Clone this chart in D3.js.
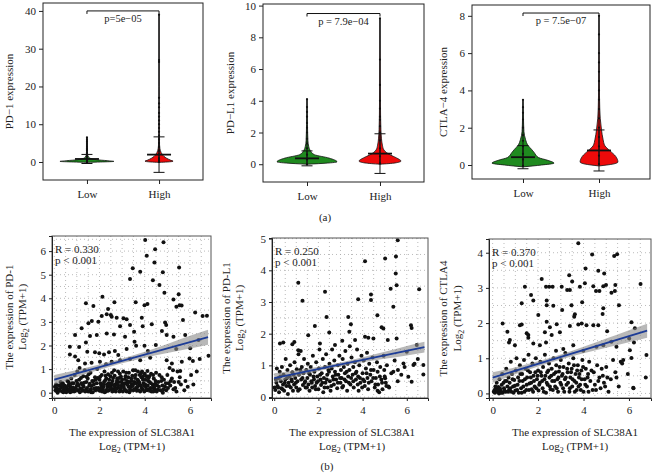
<!DOCTYPE html>
<html><head><meta charset="utf-8">
<script src="https://cdn.jsdelivr.net/npm/d3@7"></script>
<style>body{margin:0;background:#fff}svg{display:block}text{font-family:"Liberation Serif","DejaVu Serif",serif;fill:#222}</style>
</head><body><svg id="c" width="652" height="476"></svg>
<script>
// ---------- DATA ----------
const groups = ["Low", "High"];
const violinTitles = ["PD\u22121 expression", "PD\u2212L1 expression", "CTLA\u22124 expression"];
const violinPLabels = ["p=5e\u221205", "p = 7.9e\u221204", "p = 7.5e\u221207"];
const violinYTicks = [[0, 10, 20, 30, 40], [0, 2, 4, 6, 8, 10], [0, 2, 4, 6, 8]];
const violinBracket = [40, 9.5, 8.15];
const violinMeans = [[0.8, 1.95], [0.37, 0.67], [0.42, 0.78]];
const violinSDs = [[1.2, 4.7], [0.47, 1.25], [0.62, 1.1]];
// density profiles [value, relative density]
const pd1LowDensity = [[-0.1,0],[0,0.5],[0.15,1],[0.35,0.75],[0.6,0.35],[0.9,0.15],[1.3,0.06],[2,0.025],[3,0.012],[4.5,0.006],[6.5,0]];
const pd1HighDensity = [[-0.1,0],[0,0.3],[0.2,0.52],[0.5,0.42],[1,0.28],[1.5,0.18],[2,0.12],[3,0.05],[4,0.025],[6,0.01],[10,0.004],[20,0.002],[39,0]];
const pdl1LowDensity = [[0,0],[0.05,0.5],[0.15,1],[0.39,0.73],[0.6,0.25],[0.85,0.11],[1.1,0.06],[1.5,0.03],[2.5,0.015],[4.1,0]];
const pdl1HighDensity = [[0,0],[0.08,0.5],[0.2,0.7],[0.4,0.55],[0.6,0.33],[0.9,0.13],[1.2,0.08],[1.6,0.05],[2.2,0.03],[3,0.02],[5,0.01],[9.2,0]];
const ctla4LowDensity = [[-0.1,0],[0,0.6],[0.1,1],[0.25,0.8],[0.4,0.5],[0.67,0.36],[0.85,0.27],[1.03,0.17],[1.38,0.08],[1.8,0.03],[2.5,0.015],[3.5,0]];
const ctla4HighDensity = [[-0.05,0],[0.05,0.45],[0.16,0.61],[0.46,0.54],[0.77,0.35],[1.03,0.19],[1.38,0.13],[1.9,0.08],[2.5,0.04],[3,0.025],[4.5,0.01],[8,0]];
// sample values drawn on the centre line
const pd1LowValues = [-0.1,0.2,0.5,1,1.5,2,2.5,3,3.3,3.6,4,4.5,5,5.5,6,6.5];
const pd1HighValues = [0,0.5,1,2,3,4,5,6,7,8,9,10,11,12,13,14.5,15.5,17,26.5,27,39];
const pdl1LowValues = [0,0.3,0.6,1,1.3,1.6,2,2.3,2.6,3,3.3,3.6,4.1];
const pdl1HighValues = [0.05,0.5,1,1.5,2,2.4,2.8,3,3.5,4,5,6.6,9.2];
const ctla4LowValues = [-0.05,0.3,0.6,1,1.3,1.6,2,2.45,2.8,3.1,3.5];
const ctla4HighValues = [0.05,0.5,1,1.5,2,2.5,3,3.5,4,4.5,5,5.5,6,7,8];

const scatterGenes = ["PD-1", "PD-L1", "CTLA4"];
const scatterR = ["R = 0.330", "R = 0.250", "R = 0.370"];
const scatterP = ["p < 0.001", "p < 0.001", "p < 0.001"];
const scatterXTicks = [0, 2, 4, 6];
const scatterYTicks = [[0,1,2,3,4,5,6],[0,1,2,3,4,5],[0,1,2,3,4]];
const scatterFit = [[0.55, 0.265], [0.6, 0.144], [0.45, 0.196]]; // intercept, slope
const scatterCI = [
  [[0,0.2],[1,0.15],[2,0.11],[3,0.1],[4,0.13],[5,0.19],[6,0.27],[6.8,0.32]],
  [[0,0.15],[1,0.1],[2,0.07],[3,0.06],[4,0.08],[5,0.11],[6,0.15],[6.8,0.17]],
  [[0,0.15],[1,0.1],[2,0.075],[3,0.07],[4,0.09],[5,0.13],[6,0.17],[6.8,0.2]]
];
const pd1Points = [
[4.02,6.47],[4.83,6.37],[4.09,5.8],[4.46,6.08],[4.43,5.52],[3.47,5.27],[3.8,5.13],[3.35,4.82],[4.36,4.77],[5.52,5.3],[4.8,5.1],[4.65,4.56],[4.87,4.24],
[2.13,4.07],[1.4,3.79],[2.66,3.83],[1.73,3.67],[3.6,3.83],[3.99,3.71],[4.12,3.76],[5.27,3.95],[5.5,4.17],[5.54,3.71],[5.63,3.69],[5.4,3.64],[6.23,3.4],[6.56,3.25],[6.75,3.26],
[2.38,3.55],[2.32,3.32],[2.5,3.29],[2.1,3.25],[2.54,3.22],[2.76,3.18],[1.51,2.94],[1.66,3.04],[1.95,3.01],[3.06,3.15],[3.2,3.11],[3.87,3.18],[3.91,2.82],[4.31,2.9],[4.9,2.97],[4.95,2.87],[5.69,3.08],
[2.91,2.82],[3.35,2.87],[1.21,2.73],[1.88,2.44],[2.32,2.51],[2.64,2.47],[3.53,2.58],[3.13,2.37],[0.92,2.44],[1.58,2.4],[4.76,2.61],[4.97,2.44],[5.27,2.37],[5.79,2.44],[6.38,2.23],
[1.4,2.13],[0.69,1.95],[1.1,1.94],[1.46,1.74],[1.8,1.71],[1.99,1.67],[2.2,1.62],[2.42,1.71],[2.68,1.77],[2.83,1.6],[3.2,1.85],[3.55,2.16],[3.62,1.99],[3.99,1.99],[4.14,1.77],[4.49,2.02],[5.39,1.85],[6.01,1.88],[6.82,1.57],
[0.69,1.62],[0.92,1.53],[1.06,1.38],[1.36,1.24],[1.65,1.27],[2.02,1.31],[2.29,1.2],[2.54,1.31],[2.91,1.38],[3.35,1.43],[3.8,1.38],[4.24,1.48],[4.97,1.38],[5.2,1.24],[5.64,1.31],[5.98,1.45],[6.13,1.34],[6.43,1.43],[5.57,0.92],
[0.05,0.1],[0.1,0.2],[0.12,0.05],[0.18,0.15],[0.2,0.3],[0.25,0.1],[0.3,0.22],[0.35,0.05],[0.38,0.4],[0.42,0.15],[0.45,0.3],[0.5,0.08],[0.55,0.2],[0.58,0.5],[0.62,0.1],[0.65,0.35],[0.7,0.02],[0.72,0.25],[0.75,0.6],[0.8,0.12],[0.85,0.4],[0.88,0.05],[0.9,0.75],[0.95,0.2],[1.0,0.3],[1.02,0.9],[1.05,0.1],[1.1,0.55],[1.12,1.05],[1.15,0.18],[1.2,0.4],[1.25,0.08],[1.28,0.7],[1.3,0.25],[1.35,0.95],[1.4,0.12],[1.42,0.45],[1.48,0.6],[1.5,0.05],[1.55,0.3],[1.6,0.85],[1.62,0.15],[1.68,0.5],[1.7,0.02],[1.75,0.35],[1.8,0.65],[1.82,0.1],[1.88,0.4],[1.9,1.0],[1.95,0.2],[2.0,0.55],[2.02,0.08],[2.08,0.3],[2.1,0.75],[2.15,0.15],[2.2,0.45],[2.22,0.9],[2.28,0.05],[2.3,0.6],[2.35,0.25],[2.4,0.4],[2.42,0.1],[2.48,0.7],[2.5,0.3],[2.55,0.85],[2.58,0.5],[2.62,0.15],[2.65,0.95],[2.7,0.35],[2.72,0.05],[2.78,0.6],[2.8,0.2],[2.85,0.45],[2.9,0.8],[2.92,0.1],[2.98,0.3],[3.0,0.55],[3.05,0.9],[3.08,0.2],[3.12,0.4],[3.15,0.7],[3.2,0.05],[3.22,0.5],[3.28,0.25],[3.3,0.85],[3.35,0.15],[3.4,0.6],[3.42,0.35],[3.48,0.95],[3.5,0.1],[3.55,0.45],[3.6,0.75],[3.62,0.2],[3.68,0.55],[3.7,0.9],[3.75,0.3],[3.8,0.05],[3.85,0.65],[3.9,0.15],[3.95,0.4],[4.0,0.8],[4.05,0.25],[4.1,0.1],[4.15,0.5],[4.2,0.7],[4.25,0.2],[4.3,0.05],[4.35,0.35],[4.4,0.6],[4.45,0.15],[4.5,0.85],[4.55,0.3],[4.6,0.45],[4.7,0.1],[4.75,0.65],[4.8,0.0],[4.85,0.55],[4.9,0.25],[5.0,0.75],[5.05,0.4],[5.1,1.05],[5.2,0.6],[5.3,0.45],[5.35,0.2],[5.45,0.9],[5.55,0.65],[5.6,0.35],[5.8,0.5],[5.9,0.25],[6.05,0.75],[6.15,0.35],[6.3,0.9],
[0.08,0.35],[0.15,0.0],[0.28,0.45],[0.4,0.02],[0.48,0.12],[0.6,0.28],[0.68,0.15],[0.78,0.4],[0.92,0.08],[0.98,0.5],[1.08,0.3],[1.18,0.62],[1.22,0.15],[1.32,0.42],[1.45,0.2],[1.52,0.78],[1.58,0.1],[1.65,0.28],[1.72,0.48],[1.85,0.2],[1.92,0.62],[2.05,0.4],[2.12,0.05],[2.18,0.25],[2.25,0.52],[2.32,0.12],[2.38,0.78],[2.45,0.3],[2.52,0.18],[2.6,0.62],[2.68,0.25],[2.75,0.4],[2.82,0.9],[2.88,0.05],[2.95,0.68],[3.02,0.38],[3.1,0.12],[3.18,0.85],[3.25,0.45],[3.32,0.02],[3.38,0.25],[3.45,0.72],[3.52,0.38],[3.58,0.95],[3.65,0.08],[3.72,0.5],[3.78,0.75],[3.82,0.3],[3.88,0.9],[3.92,0.55],[3.98,0.05],[4.02,0.35],[4.08,0.7],[4.12,0.92],[4.18,0.15],[4.22,0.45],[4.28,0.8],[4.38,0.05],[4.42,0.25],[4.48,0.5],[4.58,0.12],[4.65,0.75],[4.78,0.3],[4.95,0.1],[5.15,0.5],[5.25,0.95],[5.4,0.05],
[0.03,0.25],[0.22,0.08],[0.33,0.32],[0.47,0.22],[0.53,0.02],[0.63,0.45],[0.77,0.05],[0.83,0.22],[0.97,0.12],[1.03,0.38],[1.13,0.02],[1.27,0.32],[1.37,0.05],[1.43,0.68],[1.57,0.38],[1.63,0.02],[1.77,0.18],[1.83,0.55],[1.97,0.1],[2.03,0.68],[2.07,0.18],[2.17,0.35],[2.23,0.02],[2.27,0.72],[2.33,0.35],[2.37,0.08],[2.43,0.55],[2.47,0.2],[2.53,0.4],[2.57,0.05],[2.63,0.32],[2.67,0.72],[2.73,0.15],[2.77,0.5],[2.83,0.3],[2.87,0.62],[2.93,0.2],[2.97,0.45],[3.03,0.05],[3.07,0.28],[3.13,0.58],[3.17,0.1],[3.23,0.35],[3.27,0.65],[3.33,0.45],[3.37,0.1],[3.43,0.5],[3.47,0.28],[3.53,0.15],[3.57,0.62],[3.63,0.4],[3.67,0.25],[3.73,0.1],[3.77,0.42],[3.83,0.82],[3.87,0.2],[3.93,0.7],[3.97,0.3],[4.03,0.55],[4.07,0.15],[4.13,0.3],[4.17,0.62],[4.23,0.08],[4.27,0.4],[4.33,0.2],[4.37,0.75],[4.47,0.38],[4.53,0.05],[4.63,0.25],[4.73,0.5],[4.83,0.15],[4.93,0.4],[5.03,0.2],[5.13,0.3],[5.27,0.15],[5.5,0.45],[5.75,0.1]
];
const pdl1Points = [
[5.59,4.95],[5.51,4.44],[5.02,4.37],[4.11,4.29],[5.5,3.9],[5.54,3.53],[1.09,3.61],[1.28,3.04],[2.3,3.32],[4.38,3.24],[4.38,3.06],[6.56,3.4],[5.27,3.42],[3.8,3.09],[4.67,2.58],[5.39,2.85],[2.37,2.53],[3.35,2.53],[3.47,2.3],[6.19,2.27],[6.22,2.18],[4.86,2.2],[4.94,2.16],[1.84,2.24],[2.49,2.04],[3.4,2.06],[1.54,1.95],[4.11,1.9],[4.26,1.87],[4.49,1.85],[3.66,1.8],[3.08,1.78],[5.14,1.8],[5.54,1.85],[0.41,1.72],[0.26,1.69],[0.82,1.67],[0.91,1.74],[1.09,1.48],[2.07,1.69],[2.75,1.64],[6.45,1.64],[6.0,1.43],[6.75,1.01],[6.75,0.71],[6.07,0.64],[6.22,0.48],[5.85,1.06],[5.59,0.5],[5.39,0.8],[5.17,0.33],[5.02,0.59],[4.68,0.8],[6.3,1.01],
[0.02,0.3],[0.05,0.22],[0.1,0.45],[0.12,0.9],[0.15,0.35],[0.2,0.6],[0.22,0.15],[0.25,0.8],[0.3,0.5],[0.32,0.28],[0.35,0.95],[0.4,0.4],[0.42,0.7],[0.45,0.2],[0.5,0.55],[0.52,1.2],[0.55,0.35],[0.6,0.85],[0.62,0.1],[0.65,0.45],[0.7,0.65],[0.72,1.0],[0.75,0.3],[0.8,0.5],[0.82,0.78],[0.85,0.2],[0.9,0.4],[0.92,1.1],[0.95,0.6],[1.0,0.3],[1.02,0.88],[1.05,0.5],[1.1,1.35],[1.12,0.7],[1.15,0.25],[1.2,1.45],[1.22,0.55],[1.25,0.95],[1.3,0.38],[1.32,0.75],[1.35,1.2],[1.4,0.5],[1.42,0.3],[1.45,0.85],[1.5,0.6],[1.52,1.05],[1.55,0.4],[1.6,0.2],[1.62,0.7],[1.65,0.95],[1.7,0.45],[1.72,0.3],[1.75,1.3],[1.8,0.55],[1.82,0.8],[1.85,0.35],[1.9,1.1],[1.92,0.45],[1.95,0.65],[2.0,0.25],[2.02,0.9],[2.05,1.5],[2.1,0.55],[2.12,0.38],[2.15,0.75],[2.2,1.2],[2.22,0.15],[2.25,0.6],[2.3,0.95],[2.32,0.45],[2.35,1.35],[2.4,0.7],[2.42,0.3],[2.45,0.85],[2.5,1.05],[2.52,0.5],[2.55,0.2],[2.6,0.9],[2.62,1.5],[2.65,0.65],[2.7,0.4],[2.72,1.15],[2.75,0.8],[2.8,0.55],[2.85,0.28],[2.88,1.0],[2.9,0.7],[2.95,1.3],[3.0,0.45],[3.02,0.85],[3.05,0.6],[3.1,1.2],[3.12,0.35],[3.15,0.95],[3.2,0.75],[3.22,1.45],[3.25,0.5],[3.3,0.2],[3.32,1.05],[3.35,0.65],[3.4,0.85],[3.42,1.6],[3.45,0.4],[3.5,1.25],[3.55,0.7],[3.58,0.95],[3.6,0.3],[3.65,1.1],[3.7,0.55],[3.72,0.8],[3.75,1.5],[3.8,0.65],[3.82,0.2],[3.85,1.0],[3.9,0.45],[3.95,1.3],[4.0,0.75],[4.02,0.55],[4.05,1.15],[4.1,0.35],[4.15,0.9],[4.2,1.4],[4.22,0.6],[4.25,0.25],[4.3,1.05],[4.35,0.7],[4.4,0.5],[4.45,1.25],[4.5,0.85],[4.55,0.3],[4.6,0.6],[4.65,1.1],[4.7,0.4],[4.75,0.15],[4.8,0.95],[4.85,0.55],[4.9,0.25],[4.95,1.3],[5.0,0.65],[5.05,0.45],[5.1,1.0],[5.2,0.3],[5.3,0.75],[5.45,1.15],[5.6,0.85],[5.75,0.7],[5.9,0.95],[6.35,1.05],[6.5,1.2],
[0.08,0.55],[0.18,0.3],[0.28,0.65],[0.38,0.25],[0.48,0.45],[0.58,0.6],[0.68,0.35],[0.78,0.55],[0.88,0.7],[0.98,0.45],[1.08,0.2],[1.18,0.85],[1.28,0.6],[1.38,0.45],[1.48,0.3],[1.58,0.75],[1.68,0.5],[1.78,0.65],[1.88,0.25],[1.98,0.5],[2.08,0.7],[2.18,0.45],[2.28,0.3],[2.38,0.55],[2.48,0.8],[2.58,0.35],[2.68,0.55],[2.78,0.7],[2.88,0.45],[2.98,0.6],[3.08,0.3],[3.18,0.55],[3.28,0.8],[3.38,0.45],[3.48,0.6],[3.58,0.5],[3.68,0.75],[3.78,0.4],[3.88,0.6],[3.98,0.3],[4.08,0.5],[4.18,0.75],[4.28,0.45],[4.38,0.85],[4.48,0.6],[4.58,0.4],[4.68,0.2],[4.78,0.65],[4.88,0.45],[4.98,0.85],[5.08,0.35]
];
const ctla4Points = [
[3.77,4.27],[4.38,3.95],[5.35,3.91],[5.48,3.96],[4.09,3.55],[4.65,3.49],[4.91,3.41],[3.37,3.36],[3.5,3.18],[2.16,3.25],[4.06,3.13],[3.84,3.03],[4.43,3.05],[4.87,3.05],[4.99,3.08],[5.4,3.08],[5.23,2.86],[5.38,2.91],[2.35,3.03],[2.49,3.03],[2.64,3.03],[3.04,3.03],[1.42,3.03],[3.28,2.94],[3.4,2.94],[4.55,2.91],[4.7,2.91],[6.51,3.11],
[1.69,2.8],[1.28,2.56],[1.79,2.64],[2.38,2.51],[2.67,2.49],[2.38,2.64],[3.47,2.51],[3.62,2.25],[3.59,2.18],[3.06,2.37],[3.94,2.59],[4.87,2.42],[4.84,2.26],[5.56,2.51],[2.01,2.23],[0.44,1.99],[1.2,1.94],[1.28,1.96],[1.5,1.71],[1.57,1.66],[1.57,1.58],[2.38,2.04],[2.52,1.88],[2.82,1.97],[2.3,1.74],[2.6,1.66],[2.96,1.74],[3.4,1.92],[3.77,1.96],[3.92,1.99],[4.13,1.94],[4.43,1.94],[4.65,1.94],[5.04,1.77],[6.11,2.02],[6.26,1.85],
[0.65,1.75],[0.76,1.52],[0.72,1.45],[0.98,1.37],[1.79,1.42],[2.08,1.37],[2.35,1.45],[2.79,1.21],[3.11,1.26],[3.55,1.37],[3.99,1.21],[4.57,1.33],[4.87,1.37],[5.23,1.47],[5.45,1.33],[6.01,1.56],[6.22,1.45],[6.77,1.09],[6.04,1.23],[6.11,1.01],[5.75,0.95],[5.64,0.9],[6.74,0.45],[6.19,0.16],
[0.05,0.05],[0.08,0.1],[0.1,0.02],[0.15,0.12],[0.18,0.3],[0.2,0.05],[0.25,0.18],[0.28,0.0],[0.3,0.4],[0.35,0.08],[0.4,0.25],[0.42,0.55],[0.45,0.02],[0.5,0.15],[0.55,0.35],[0.58,0.05],[0.6,0.7],[0.65,0.2],[0.7,0.45],[0.72,0.1],[0.75,0.3],[0.8,0.9],[0.82,0.05],[0.85,0.55],[0.9,0.2],[0.95,0.38],[1.0,0.08],[1.02,0.65],[1.05,1.0],[1.1,0.25],[1.12,0.45],[1.15,0.02],[1.2,0.8],[1.25,0.15],[1.3,0.55],[1.32,0.35],[1.38,0.95],[1.4,0.05],[1.45,0.7],[1.5,0.25],[1.52,0.45],[1.58,1.1],[1.6,0.1],[1.65,0.6],[1.7,0.3],[1.75,0.85],[1.78,0.05],[1.8,0.5],[1.85,0.2],[1.9,1.0],[1.95,0.4],[2.0,0.65],[2.02,0.08],[2.08,0.3],[2.1,0.9],[2.15,0.5],[2.2,0.15],[2.22,0.75],[2.28,0.4],[2.3,1.1],[2.35,0.02],[2.4,0.6],[2.42,0.25],[2.48,0.85],[2.5,0.45],[2.55,0.12],[2.6,0.7],[2.62,0.35],[2.68,1.0],[2.7,0.55],[2.75,0.2],[2.8,0.8],[2.85,0.4],[2.88,0.05],[2.92,0.62],[2.98,0.3],[3.0,0.95],[3.05,0.5],[3.1,0.15],[3.12,0.75],[3.18,0.4],[3.2,1.15],[3.25,0.25],[3.3,0.6],[3.35,0.85],[3.38,0.05],[3.42,0.45],[3.48,0.7],[3.5,0.2],[3.55,1.0],[3.6,0.35],[3.65,0.55],[3.7,0.1],[3.75,0.8],[3.8,0.45],[3.85,0.25],[3.9,0.65],[3.95,0.95],[4.0,0.05],[4.05,0.4],[4.1,0.7],[4.15,0.2],[4.2,0.55],[4.25,0.9],[4.3,0.35],[4.4,0.1],[4.45,0.6],[4.5,0.25],[4.6,0.8],[4.7,0.45],[4.75,0.15],[4.85,0.5],[4.9,0.3],[5.0,0.75],[5.1,0.05],[5.2,0.4],[5.3,0.95],[5.4,0.6],[5.55,0.2],[5.7,0.85],[6.2,0.15],[5.45,0.45],[5.95,0.55],
[0.12,0.2],[0.22,0.1],[0.32,0.15],[0.38,0.02],[0.48,0.3],[0.52,0.08],[0.62,0.35],[0.68,0.05],[0.78,0.15],[0.88,0.4],[0.92,0.02],[0.98,0.22],[1.08,0.1],[1.18,0.35],[1.22,0.55],[1.28,0.02],[1.35,0.2],[1.42,0.4],[1.48,0.1],[1.55,0.65],[1.62,0.28],[1.68,0.45],[1.72,0.12],[1.82,0.35],[1.88,0.6],[1.92,0.15],[1.98,0.5],[2.05,0.25],[2.12,0.6],[2.18,0.35],[2.25,0.05],[2.32,0.5],[2.38,0.3],[2.45,0.65],[2.52,0.2],[2.58,0.5],[2.65,0.1],[2.72,0.35],[2.78,0.6],[2.82,0.15],[2.9,0.45],[2.95,0.75],[3.02,0.25],[3.08,0.55],[3.15,0.05],[3.22,0.45],[3.28,0.7],[3.32,0.3],[3.4,0.15],[3.45,0.6],[3.52,0.4],[3.58,0.8],[3.62,0.05],[3.68,0.3],[3.72,0.65],[3.78,0.2],[3.82,0.55],[3.88,0.1],[3.92,0.4],[3.98,0.75],[4.08,0.25],[4.18,0.45],[4.22,0.05],[4.35,0.65],[4.55,0.1],[4.65,0.35],[4.8,0.7],[4.95,0.2],[5.05,0.45]
];

// ---------- DRAW ----------
const svg = d3.select("#c");
const GREEN = "#1f8a1f", RED = "#ee0a0a";
const fmt = d3.format("d");

const violinLayout = [
  {l:43, r:203, t:3, b:180, y0:-4.77, y1:42.1, pad:0.61, hw:27, tx:9},
  {l:263, r:424, t:4, b:182, y0:-1.12, y1:10.1, pad:0.603, hw:30, tx:230},
  {l:472, r:650, t:5, b:179, y0:-0.75, y1:8.58, pad:0.671, hw:31, tx:443}
];
const densities = [[pd1LowDensity, pd1HighDensity],[pdl1LowDensity, pdl1HighDensity],[ctla4LowDensity, ctla4HighDensity]];
const centreValues = [[pd1LowValues, pd1HighValues],[pdl1LowValues, pdl1HighValues],[ctla4LowValues, ctla4HighValues]];

violinLayout.forEach((L, i) => {
  const g = svg.append("g");
  const x = d3.scalePoint().domain(groups).range([L.l, L.r]).padding(L.pad);
  const y = d3.scaleLinear().domain([L.y0, L.y1]).range([L.b, L.t]);
  const w = d3.scaleLinear().domain([0, 1]).range([0, L.hw]);
  groups.forEach((grp, j) => {
    const cx = x(grp);
    const area = d3.area().curve(d3.curveMonotoneY)
      .y(d => y(d[0])).x0(d => cx - w(d[1])).x1(d => cx + w(d[1]));
    g.append("path").datum(densities[i][j]).attr("d", area)
      .attr("fill", j === 0 ? GREEN : RED).attr("stroke", "#111").attr("stroke-width", 0.8);
    const vals = centreValues[i][j];
    g.append("line").attr("x1", cx).attr("x2", cx).attr("y1", y(d3.min(vals))).attr("y2", y(d3.max(vals)))
      .attr("stroke", "#111").attr("stroke-width", 1);
    g.selectAll(null).data(vals).enter().append("circle")
      .attr("cx", cx).attr("cy", d => y(d)).attr("r", 1.1).attr("fill", "#111");
    const m = violinMeans[i][j], s = violinSDs[i][j];
    g.append("line").attr("x1", cx).attr("x2", cx).attr("y1", y(m - s)).attr("y2", y(m + s)).attr("stroke", "#111").attr("stroke-width", 1);
    [m - s, m + s].forEach(v => g.append("line").attr("x1", cx - 5.5).attr("x2", cx + 5.5)
      .attr("y1", y(v)).attr("y2", y(v)).attr("stroke", "#111").attr("stroke-width", 1));
    g.append("line").attr("x1", cx - 12).attr("x2", cx + 12).attr("y1", y(m)).attr("y2", y(m))
      .attr("stroke", "#111").attr("stroke-width", 1.8);
  });
  const by = y(violinBracket[i]);
  g.append("path").attr("d", `M${x("Low")},${by + 3}V${by}H${x("High")}V${by + 3}`)
    .attr("fill", "none").attr("stroke", "#111").attr("stroke-width", 1);
  g.append("text").attr("x", (x("Low") + x("High")) / 2).attr("y", by + 11).attr("text-anchor", "middle")
    .attr("font-size", 10.5).text(violinPLabels[i]);
  g.append("rect").attr("x", L.l).attr("y", L.t).attr("width", L.r - L.l).attr("height", L.b - L.t)
    .attr("fill", "none").attr("stroke", "#222").attr("stroke-width", 1);
  const ya = g.append("g").attr("transform", `translate(${L.l},0)`)
    .call(d3.axisLeft(y).tickValues(violinYTicks[i]).tickFormat(fmt).tickSize(4).tickPadding(3));
  const xa = g.append("g").attr("transform", `translate(0,${L.b})`)
    .call(d3.axisBottom(x).tickSize(4).tickPadding(6));
  [ya, xa].forEach(a => { a.select(".domain").remove(); a.selectAll("line").attr("stroke", "#222");
    a.selectAll("text").attr("font-size", 11).attr("fill", "#222"); });
  g.append("text").attr("transform", `translate(${L.tx},${(L.t + L.b) / 2}) rotate(-90)`)
    .attr("text-anchor", "middle").attr("dy", "0.35em").attr("font-size", 11).text(violinTitles[i]);
});
svg.append("text").attr("x", 325).attr("y", 221).attr("text-anchor", "middle").attr("font-size", 11).text("(a)");

const scatterLayout = [
  {l:52, r:211, t:236, b:398, x0:-0.1, x1:6.93, y0:-0.225, y1:6.64, t1:9, t2:22, cx:132},
  {l:272, r:428, t:238, b:398, x0:-0.1, x1:6.96, y0:-0.03, y1:5.02, t1:226, t2:239, cx:352},
  {l:489, r:651, t:239, b:398, x0:-0.16, x1:6.97, y0:-0.13, y1:4.39, t1:443, t2:457, cx:575}
];
const scatterPoints = [pd1Points, pdl1Points, ctla4Points];
scatterLayout.forEach((L, i) => {
  const g = svg.append("g");
  const x = d3.scaleLinear().domain([L.x0, L.x1]).range([L.l, L.r]);
  const y = d3.scaleLinear().domain([L.y0, L.y1]).range([L.b, L.t]);
  const gx = d3.range(0, L.x1, 0.5), gy = d3.range(0, L.y1, 0.5);
  g.selectAll(null).data(gx).enter().append("line").attr("x1", d => x(d)).attr("x2", d => x(d))
    .attr("y1", L.t).attr("y2", L.b).attr("stroke", "#aaa").attr("stroke-width", 0.8).attr("stroke-dasharray", "1,3");
  g.selectAll(null).data(gy).enter().append("line").attr("y1", d => y(d)).attr("y2", d => y(d))
    .attr("x1", L.l).attr("x2", L.r).attr("stroke", "#aaa").attr("stroke-width", 0.8).attr("stroke-dasharray", "1,3");
  g.selectAll(null).data(scatterPoints[i]).enter().append("circle")
    .attr("cx", d => x(d[0])).attr("cy", d => y(d[1])).attr("r", 2).attr("fill", "#111");
  const [a, b] = scatterFit[i];
  const band = d3.area().curve(d3.curveMonotoneX).x(d => x(d[0]))
    .y0(d => y(a + b * d[0] - d[1])).y1(d => y(a + b * d[0] + d[1]));
  g.append("path").datum(scatterCI[i]).attr("d", band).attr("fill", "#888").attr("fill-opacity", 0.6);
  const xs = [scatterCI[i][0][0], scatterCI[i][scatterCI[i].length - 1][0]];
  g.append("line").attr("x1", x(xs[0])).attr("x2", x(xs[1])).attr("y1", y(a + b * xs[0])).attr("y2", y(a + b * xs[1]))
    .attr("stroke", "#1d3c96").attr("stroke-width", 1.8);
  g.append("rect").attr("x", L.l).attr("y", L.t).attr("width", L.r - L.l).attr("height", L.b - L.t)
    .attr("fill", "none").attr("stroke", "#555").attr("stroke-width", 1);
  const xa = g.append("g").attr("transform", `translate(0,${L.b})`)
    .call(d3.axisBottom(x).tickValues(scatterXTicks).tickFormat(fmt).tickSize(3).tickPadding(5));
  const ya = g.append("g").attr("transform", `translate(${L.l},0)`)
    .call(d3.axisLeft(y).tickValues(scatterYTicks[i]).tickFormat(fmt).tickSize(3).tickPadding(3));
  [xa, ya].forEach(ax => { ax.select(".domain").attr("stroke", "#222"); ax.selectAll("line").attr("stroke", "#222");
    ax.selectAll("text").attr("font-size", 11).attr("fill", "#222"); });
  g.append("text").attr("x", L.l + 3).attr("y", L.t + 17).attr("font-size", 11).text(scatterR[i]);
  g.append("text").attr("x", L.l + 3).attr("y", L.t + 28).attr("font-size", 11).text(scatterP[i]);
  g.append("text").attr("x", L.cx).attr("y", 436).attr("text-anchor", "middle").attr("font-size", 11)
    .text("The expression of SLC38A1");
  const lg = g.append("text").attr("x", L.cx).attr("y", 450).attr("text-anchor", "middle").attr("font-size", 11);
  lg.append("tspan").text("Log");
  lg.append("tspan").attr("font-size", 8).attr("dy", 3).text("2");
  lg.append("tspan").attr("dy", -3).text(" (TPM+1)");
  const cy = (L.t + L.b) / 2;
  g.append("text").attr("transform", `translate(${L.t1},${cy}) rotate(-90)`).attr("text-anchor", "middle")
    .attr("dy", "0.35em").attr("font-size", 11).text("The expression of " + scatterGenes[i]);
  const yl = g.append("text").attr("transform", `translate(${L.t2},${cy}) rotate(-90)`).attr("text-anchor", "middle")
    .attr("dy", "0.35em").attr("font-size", 11);
  yl.append("tspan").text("Log");
  yl.append("tspan").attr("font-size", 8).attr("dy", 3).text("2");
  yl.append("tspan").attr("dy", -3).text(" (TPM+1)");
});
svg.append("text").attr("x", 327).attr("y", 470).attr("text-anchor", "middle").attr("font-size", 11).text("(b)");
</script></body></html>
